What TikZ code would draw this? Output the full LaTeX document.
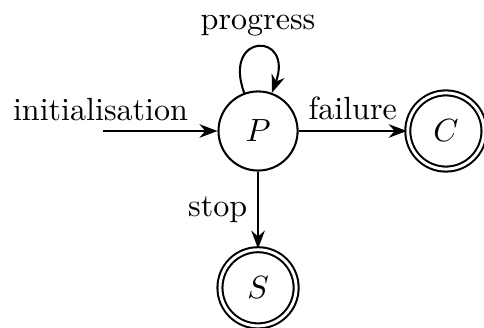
\documentclass[tikz,border=0pt]{standalone}
\usepackage{tikz}
\usetikzlibrary{arrows.meta, positioning}

\begin{document}
\begin{tikzpicture}[
    node distance=1.3cm,
    every node/.style={font=\fontsize{10.95pt}{13.6pt}\selectfont},
    state/.style={circle, draw, line width=0.7pt, minimum size=27pt, inner sep=0pt},
    final/.style={state, double, double distance=1pt, minimum size=26pt},
    arrow/.style={->, line width=0.7pt, >=Stealth}
]
    \useasboundingbox (-88.05pt,-66.9pt) rectangle (77.1pt,44.7pt);

    % States
    \node[state] (P) at (0,0) {$P$};
    \node[final, right=36.9pt of P] (C) {$C$};
    \node[final, below=26.3pt of P] (S) {$S$};

    % Initial arrow
    \coordinate[left=38.9pt of P.west] (init);
    \node[above=0pt of init, xshift=-1pt] (initlabel) {initialisation};

    \draw[arrow] (init) -- (P);
    \draw[arrow] (P) to[loop above, out=110, in=70, looseness=6] node[above] (progresslabel) {progress} (P);
    \draw[arrow] (P) -- node[above] (failurelabel) {failure} (C);
    \draw[arrow] (P) -- node[left] (stoplabel) {stop} (S);
\end{tikzpicture}
\end{document}
